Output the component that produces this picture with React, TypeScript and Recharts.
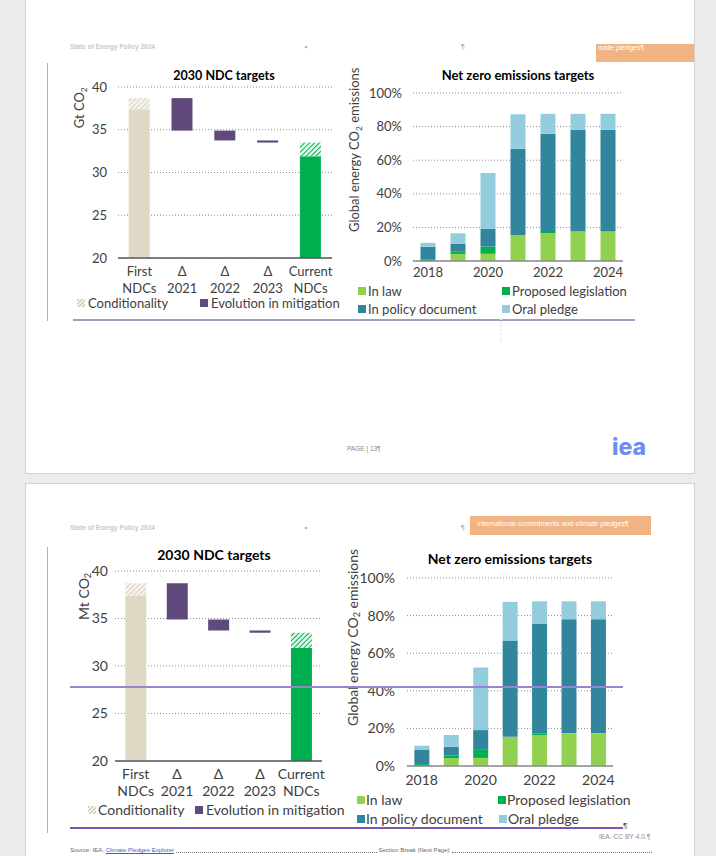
import React from 'react';
import { BarChart, Bar, XAxis, YAxis, CartesianGrid, Cell } from 'recharts';

const FONT = 'Lato, "Noto Sans", sans-serif';

// 2030 NDC targets, Gt CO2 (waterfall)
const ndcCategories = ['First\nNDCs', 'Δ\n2021', 'Δ\n2022', 'Δ\n2023', 'Current\nNDCs'];
const ndcFloor = [0, 34.9, 33.75, 33.5, 0];
const ndcTarget = [37.4, 0, 0, 0, 31.9];
const ndcChange = [0, 3.8, 1.15, 0.25, 0];
const ndcConditional = [1.3, 0, 0, 0, 1.6];
const ndcTicks = [20, 25, 30, 35, 40];

// Net zero emissions targets, % of global energy CO2 emissions
const nzYears = ['2018', '2019', '2020', '2021', '2022', '2023', '2024'];
const nzInLaw = [0, 4.2, 4.3, 15.5, 16.5, 17.5, 17.5];
const nzProposed = [1, 1.3, 4.3, 0, 0.8, 0, 0];
const nzPolicy = [7.5, 4.7, 10.5, 51.3, 58.5, 60.6, 60.6];
const nzOral = [2.3, 6.3, 33.3, 20.5, 11.8, 9.5, 9.5];
const nzTicks = [0, 20, 40, 60, 80, 100];

const C = {
  beige: '#ddd9c4',
  purple: '#604a7b',
  green: '#00b050',
  inLaw: '#92d050',
  proposed: '#00b050',
  policy: '#31859c',
  oral: '#93cddd',
  text: '#404040',
  grid: '#8f8f8f',
};

const ndcData = ndcCategories.map((cat, i) => ({
  cat,
  floor: ndcFloor[i],
  target: ndcTarget[i],
  change: ndcChange[i],
  conditional: ndcConditional[i],
}));

const nzData = nzYears.map((year, i) => ({
  year,
  inLaw: nzInLaw[i],
  proposed: nzProposed[i],
  policy: nzPolicy[i],
  oral: nzOral[i],
}));

const TwoLineTick = (props: any) => {
  const { x, y, payload, fs, gap } = props;
  const [a, b] = String(payload.value).split('\n');
  return (
    <text x={x} y={y} textAnchor="middle" fill={C.text} fontSize={fs} fontFamily={FONT}>
      <tspan x={x} dy="0.71em">{a}</tspan>
      <tspan x={x} dy={gap}>{b}</tspan>
    </text>
  );
};

const Txt = ({ cx, cy, size, w = 240, bold = false, color = '#000', rotate = false, children }: any) => (
  <div
    style={{
      position: 'absolute',
      left: cx - w / 2,
      top: cy - size * 0.6,
      width: w,
      height: size * 1.2,
      lineHeight: `${size * 1.2}px`,
      textAlign: 'center',
      fontSize: size,
      fontWeight: bold ? 700 : 400,
      color,
      whiteSpace: 'nowrap',
      transform: rotate ? 'rotate(-90deg)' : undefined,
    }}
  >
    {children}
  </div>
);

const Sub = ({ children }: any) => (
  <sub style={{ fontSize: '0.65em', verticalAlign: '-0.3em', lineHeight: 0 }}>{children}</sub>
);

const Swatch = ({ x, cy, color, hatch, size = 8 }: any) => (
  <div
    style={{
      position: 'absolute',
      left: x,
      top: cy - size / 2,
      width: size,
      height: size,
      background: hatch
        ? `repeating-linear-gradient(135deg, ${color} 0 1.5px, #f6f4ee 1.5px 3px)`
        : color,
    }}
  />
);

const LegendText = ({ x, cy, size, children }: any) => (
  <div
    style={{
      position: 'absolute',
      left: x,
      top: cy - size * 0.5,
      height: size,
      lineHeight: `${size}px`,
      fontSize: size,
      color: C.text,
      whiteSpace: 'nowrap',
    }}
  >
    {children}
  </div>
);

const NdcChart = ({ id, left, top, width, height, margin, fs, yMargin, xMargin, gap }: any) => (
  <div style={{ position: 'absolute', left, top }}>
    <BarChart width={width} height={height} data={ndcData} margin={margin} barCategoryGap="25%">
      <defs>
        <pattern id={`${id}-beige`} width="3.5" height="3.5" patternUnits="userSpaceOnUse" patternTransform="rotate(45)">
          <rect width="3.5" height="3.5" fill="#f5f3ec" />
          <line x1="0" y1="0" x2="0" y2="3.5" stroke="#d5cfb5" strokeWidth="1.8" />
        </pattern>
        <pattern id={`${id}-green`} width="3.5" height="3.5" patternUnits="userSpaceOnUse" patternTransform="rotate(45)">
          <rect width="3.5" height="3.5" fill="#e8f7ee" />
          <line x1="0" y1="0" x2="0" y2="3.5" stroke={C.green} strokeWidth="2" />
        </pattern>
      </defs>
      <CartesianGrid vertical={false} stroke={C.grid} strokeDasharray="1 2" />
      <XAxis
        dataKey="cat"
        interval={0}
        height={30}
        tickLine={false}
        tickMargin={xMargin}
        axisLine={{ stroke: '#595959', strokeWidth: 1.5 }}
        tick={(p: any) => <TwoLineTick {...p} fs={fs} gap={gap} />}
      />
      <YAxis
        width={40}
        domain={[20, 40]}
        ticks={ndcTicks}
        allowDataOverflow
        axisLine={false}
        tickLine={false}
        tickMargin={yMargin}
        tick={{ fill: C.text, fontSize: fs, fontFamily: FONT }}
      />
      <Bar dataKey="floor" stackId="w" fill="transparent" isAnimationActive={false} />
      <Bar dataKey="target" stackId="w" isAnimationActive={false}>
        {ndcData.map((d, i) => (
          <Cell key={d.cat} fill={i === 0 ? C.beige : C.green} />
        ))}
      </Bar>
      <Bar dataKey="change" stackId="w" fill={C.purple} isAnimationActive={false} />
      <Bar dataKey="conditional" stackId="w" isAnimationActive={false}>
        {ndcData.map((d, i) => (
          <Cell key={d.cat} fill={i === 0 ? `url(#${id}-beige)` : `url(#${id}-green)`} />
        ))}
      </Bar>
    </BarChart>
  </div>
);

const NzChart = ({ left, top, width, height, margin, fs, yMargin, xMargin }: any) => (
  <div style={{ position: 'absolute', left, top }}>
    <BarChart width={width} height={height} data={nzData} margin={margin} barCategoryGap="25%">
      <CartesianGrid vertical={false} stroke={C.grid} strokeDasharray="1 2" />
      <XAxis
        dataKey="year"
        interval={1}
        height={30}
        tickLine={false}
        tickMargin={xMargin}
        axisLine={{ stroke: '#8c8c8c', strokeWidth: 1.5 }}
        tick={{ fill: C.text, fontSize: fs, fontFamily: FONT }}
      />
      <YAxis
        width={50}
        domain={[0, 100]}
        ticks={nzTicks}
        axisLine={false}
        tickLine={false}
        tickMargin={yMargin}
        tickFormatter={(v: number) => `${v}%`}
        tick={{ fill: C.text, fontSize: fs, fontFamily: FONT }}
      />
      <Bar dataKey="inLaw" stackId="n" fill={C.inLaw} isAnimationActive={false} />
      <Bar dataKey="proposed" stackId="n" fill={C.proposed} isAnimationActive={false} />
      <Bar dataKey="policy" stackId="n" fill={C.policy} isAnimationActive={false} />
      <Bar dataKey="oral" stackId="n" fill={C.oral} isAnimationActive={false} />
    </BarChart>
  </div>
);

const Line = ({ x1, x2, y, color, w = 1.5 }: any) => (
  <div style={{ position: 'absolute', left: x1, top: y - w / 2, width: x2 - x1, height: w, background: color }} />
);

const VLine = ({ x, y1, y2, color }: any) => (
  <div style={{ position: 'absolute', left: x, top: y1, width: 1, height: y2 - y1, background: color }} />
);

const Header = ({ y }: any) => (
  <>
    <div style={{ position: 'absolute', left: 70, top: y - 4, fontSize: 6.5, color: '#c8c8c8', fontFamily: 'Liberation Sans, Arial, sans-serif', fontWeight: 700, whiteSpace: 'nowrap' }}>
      State of Energy Policy 2024
    </div>
    <div style={{ position: 'absolute', left: 304, top: y - 4, fontSize: 6.5, color: '#b0b0b0' }}>•</div>
    <div style={{ position: 'absolute', left: 461, top: y - 4, fontSize: 7, color: '#a0a0a0', fontFamily: 'Liberation Sans, Arial, sans-serif' }}>¶</div>
  </>
);

export default function App() {
  return (
    <div style={{ position: 'fixed', left: 0, top: 0, width: 716, height: 856, background: '#ececec', overflow: 'hidden', fontFamily: FONT }}>
      {/* pages */}
      <div style={{ position: 'absolute', left: 25, top: -2, width: 670, height: 476, background: '#fff', border: '1px solid #d2d2d2', boxSizing: 'border-box' }} />
      <div style={{ position: 'absolute', left: 25, top: 483, width: 670, height: 380, background: '#fff', border: '1px solid #d2d2d2', boxSizing: 'border-box' }} />

      {/* page 1 */}
      <Header y={47} />
      <div style={{ position: 'absolute', left: 596, top: 44, width: 98, height: 18, background: '#f2b383' }}>
        <div style={{ position: 'absolute', left: 2, top: 0, fontSize: 7, lineHeight: '8px', color: '#fff', fontFamily: 'Liberation Sans, Arial, sans-serif', whiteSpace: 'nowrap' }}>
          mate·pledges¶
        </div>
      </div>
      <VLine x={47} y1={63} y2={321} color="#b4b4b4" />

      <Txt cx={224} cy={75} size={12.5} bold>2030 NDC targets</Txt>
      <Txt cx={80} cy={108} size={13} w={80} color={C.text} rotate>
        Gt CO<Sub>2</Sub>
      </Txt>
      <NdcChart
        id="p1"
        left={60}
        top={60}
        width={290}
        height={270}
        margin={{ top: 27, right: 18, bottom: 42, left: 18 }}
        fs={13}
        yMargin={5}
        xMargin={3}
        gap="1.3em"
      />
      <Swatch x={77} cy={303} color="#d5cfb5" hatch />
      <LegendText x={88} cy={303} size={13}>Conditionality</LegendText>
      <Swatch x={200} cy={303} color={C.purple} />
      <LegendText x={211} cy={303} size={13}>Evolution in mitigation</LegendText>

      <Txt cx={518} cy={76} size={13} bold>Net zero emissions targets</Txt>
      <Txt cx={355} cy={150} size={13} w={200} color={C.text} rotate>
        Global energy CO<Sub>2</Sub> emissions
      </Txt>
      <NzChart
        left={340}
        top={60}
        width={340}
        height={270}
        margin={{ top: 33, right: 57, bottom: 39, left: 23 }}
        fs={13}
        yMargin={5}
        xMargin={1}
      />
      <Swatch x={358} cy={291} color={C.inLaw} />
      <LegendText x={368} cy={291} size={13}>In law</LegendText>
      <Swatch x={502} cy={291} color={C.proposed} />
      <LegendText x={512} cy={291} size={13}>Proposed legislation</LegendText>
      <Swatch x={358} cy={309} color={C.policy} />
      <LegendText x={368} cy={309} size={13}>In policy document</LegendText>
      <Swatch x={502} cy={309} color={C.oral} />
      <LegendText x={512} cy={309} size={13}>Oral pledge</LegendText>

      <Line x1={73} x2={635} y={320} color="#a79cc2" />
      <div style={{ position: 'absolute', left: 500, top: 318, width: 2, height: 24, borderLeft: '2px dotted #ededed' }} />

      <div style={{ position: 'absolute', left: 347, top: 445, fontSize: 6.5, color: '#8a8a8a', fontFamily: 'Liberation Sans, Arial, sans-serif', whiteSpace: 'nowrap' }}>
        PAGE | 13¶
      </div>
      <div style={{ position: 'absolute', left: 612, top: 433, fontSize: 23, fontWeight: 800, color: '#6b8ff5', fontFamily: 'Inter, sans-serif' }}>
        iea
      </div>

      {/* page 2 */}
      <Header y={528} />
      <div style={{ position: 'absolute', left: 470, top: 516, width: 181, height: 19, background: '#f2b383' }}>
        <div style={{ position: 'absolute', left: 7, top: 4, fontSize: 7, color: '#fff', fontFamily: 'Liberation Sans, Arial, sans-serif', whiteSpace: 'nowrap' }}>
          International·commitments·and·climate·pledges¶
        </div>
      </div>
      <VLine x={47} y1={547} y2={833} color="#b4b4b4" />

      <Txt cx={214} cy={555} size={14} bold>2030 NDC targets</Txt>
      <Txt cx={84} cy={596} size={14} w={80} color={C.text} rotate>
        Mt CO<Sub>2</Sub>
      </Txt>
      <NdcChart
        id="p2"
        left={40}
        top={530}
        width={310}
        height={310}
        margin={{ top: 41, right: 28, bottom: 49, left: 35 }}
        fs={14}
        yMargin={1}
        xMargin={2}
        gap="1.25em"
      />
      <Swatch x={88} cy={810} color="#d5cfb5" hatch />
      <LegendText x={98} cy={810} size={14}>Conditionality</LegendText>
      <Swatch x={195} cy={810} color={C.purple} />
      <LegendText x={206} cy={810} size={14}>Evolution in mitigation</LegendText>

      <Txt cx={510} cy={559} size={14} bold>Net zero emissions targets</Txt>
      <Txt cx={353} cy={637} size={14} w={200} color={C.text} rotate>
        Global energy CO<Sub>2</Sub> emissions
      </Txt>
      <NzChart
        left={330}
        top={530}
        width={360}
        height={310}
        margin={{ top: 48, right: 77, bottom: 44, left: 27 }}
        fs={14}
        yMargin={6}
        xMargin={3}
      />
      <Swatch x={357} cy={800} color={C.inLaw} />
      <LegendText x={366} cy={800} size={14}>In law</LegendText>
      <Swatch x={498} cy={800} color={C.proposed} />
      <LegendText x={507} cy={800} size={14}>Proposed legislation</LegendText>
      <Swatch x={357} cy={819} color={C.policy} />
      <LegendText x={366} cy={819} size={14}>In policy document</LegendText>
      <Swatch x={499} cy={819} color={C.oral} />
      <LegendText x={508} cy={819} size={14}>Oral pledge</LegendText>

      <Line x1={70} x2={623} y={687} color="#9b83d0" />
      <Line x1={70} x2={623} y={828} color="#7b56b6" w={2} />
      <div style={{ position: 'absolute', left: 623, top: 821, fontSize: 8, color: '#444', fontFamily: 'Liberation Sans, Arial, sans-serif' }}>¶</div>

      <div style={{ position: 'absolute', left: 599, top: 833, fontSize: 6.5, color: '#8a8a8a', fontFamily: 'Liberation Sans, Arial, sans-serif', whiteSpace: 'nowrap' }}>
        IEA.·CC·BY·4.0.¶
      </div>
      <div style={{ position: 'absolute', left: 70, top: 847, width: 584, display: 'flex', alignItems: 'center', fontSize: 6, color: '#666', fontFamily: 'Liberation Sans, Arial, sans-serif', whiteSpace: 'nowrap' }}>
        <span>Source:·IEA,&nbsp;</span>
        <span style={{ color: '#3a5fd0', textDecoration: 'underline' }}>Climate·Pledges·Explorer</span>
        <span style={{ flex: 1, borderBottom: '1px dotted #777', margin: '0 2px', height: 4 }} />
        <span>Section Break (Next Page)</span>
        <span style={{ flex: 1, borderBottom: '1px dotted #777', margin: '0 2px', height: 4 }} />
      </div>
    </div>
  );
}
